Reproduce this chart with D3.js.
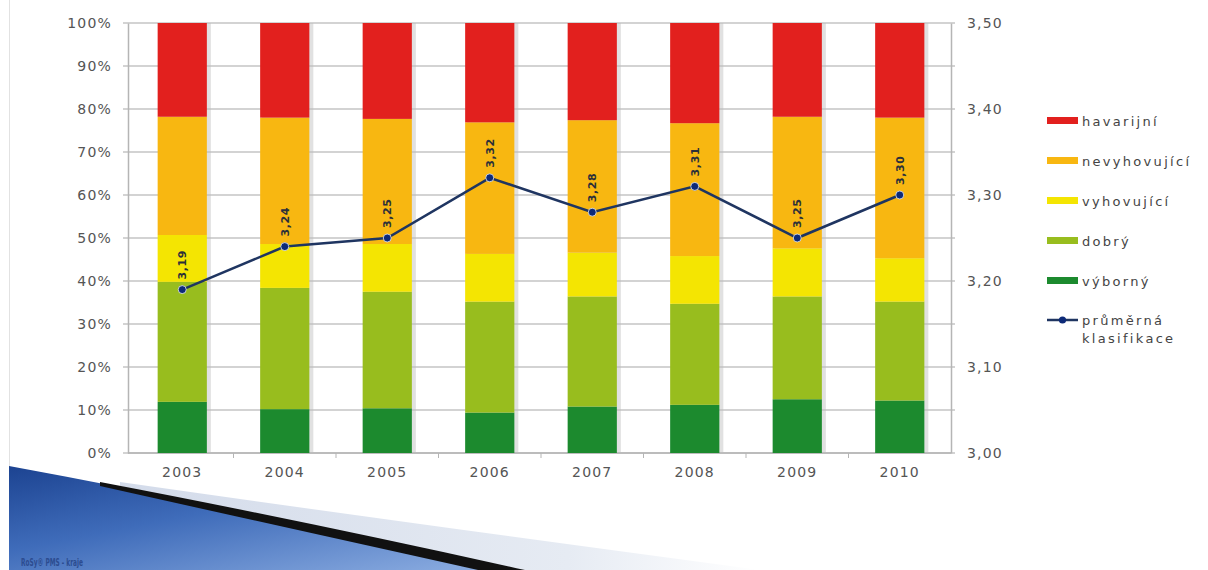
<!DOCTYPE html>
<html>
<head>
<meta charset="utf-8">
<script src="https://cdn.jsdelivr.net/npm/d3@7"></script>
<style>
  body { margin: 0; background: #fff; }
  text { font-family: "DejaVu Sans", Verdana, sans-serif; }
</style>
</head>
<body>
<div id="chart"></div>
<script>
// categories
const years = ["2003", "2004", "2005", "2006", "2007", "2008", "2009", "2010"];

// shares of each class in percent (bottom to top)
const vyborny     = [11.9, 10.2, 10.4,  9.4, 10.8, 11.2, 12.5, 12.2];
const dobry       = [27.9, 28.2, 27.1, 25.8, 25.6, 23.5, 23.9, 23.0];
const vyhovujici  = [10.9, 10.2, 11.1, 11.1, 10.2, 11.1, 11.2, 10.1];
const nevyhovujici= [27.5, 29.4, 29.1, 30.6, 30.8, 30.9, 30.6, 32.7];
const havarijni   = [21.8, 22.0, 22.3, 23.1, 22.6, 23.3, 21.8, 22.0];

// average classification (right axis)
const prumer = [3.19, 3.24, 3.25, 3.32, 3.28, 3.31, 3.25, 3.30];

const leftTicks = [0, 10, 20, 30, 40, 50, 60, 70, 80, 90, 100];
const rightTicks = [3.0, 3.1, 3.2, 3.3, 3.4, 3.5];

const seriesKeys = ["vyborny", "dobry", "vyhovujici", "nevyhovujici", "havarijni"];
const seriesNames = {
    havarijni: "havarijní",
    nevyhovujici: "nevyhovující",
    vyhovujici: "vyhovující",
    dobry: "dobrý",
    vyborny: "výborný"
};
const colors = {
    havarijni: "#e2201e",
    nevyhovujici: "#f8b711",
    vyhovujici: "#f4e502",
    dobry: "#98bd1e",
    vyborny: "#1c8a2e"
};
const lineColor = "#1f3561";

const width = 1208, height = 570;
const plotLeft = 128, plotRight = 951, plotTop = 23, plotBottom = 453;

const svg = d3.select("#chart").append("svg")
    .attr("width", width)
    .attr("height", height);

// slide decoration at the bottom left
const defs = svg.append("defs");
const blueGrad = defs.append("linearGradient").attr("id", "blueGrad")
    .attr("x1", "0").attr("y1", "0").attr("x2", "0.9").attr("y2", "1");
blueGrad.append("stop").attr("offset", "0").attr("stop-color", "#1c4391");
blueGrad.append("stop").attr("offset", "0.45").attr("stop-color", "#3f6cba");
blueGrad.append("stop").attr("offset", "1").attr("stop-color", "#86a8de");
const paleGrad = defs.append("linearGradient").attr("id", "paleGrad")
    .attr("x1", "0").attr("y1", "0").attr("x2", "1").attr("y2", "0");
paleGrad.append("stop").attr("offset", "0").attr("stop-color", "#d3dbea");
paleGrad.append("stop").attr("offset", "0.7").attr("stop-color", "#e6ebf3");
paleGrad.append("stop").attr("offset", "1").attr("stop-color", "#ffffff");

svg.append("line")
    .attr("x1", 9.5).attr("x2", 9.5).attr("y1", 0).attr("y2", 475)
    .attr("stroke", "#e2e2e2");

svg.append("path")
    .attr("d", "M120,482 Q400,522 760,570 L500,570 Q300,528 120,486 Z")
    .attr("fill", "url(#paleGrad)");
svg.append("path")
    .attr("d", "M9,466 Q260,512 490,570 L9,570 Z")
    .attr("fill", "url(#blueGrad)");
svg.append("path")
    .attr("d", "M100,482 Q300,520 525,570 L478,570 Q270,524 100,486 Z")
    .attr("fill", "#111");

svg.append("text")
    .attr("x", 21).attr("y", 566)
    .attr("font-size", 10).attr("font-weight", "bold")
    .attr("textLength", 62).attr("lengthAdjust", "spacingAndGlyphs")
    .attr("fill", "#2c4c90")
    .text("RoSy® PMS - kraje");

// scales
const x = d3.scaleBand().domain(years).range([131, plotRight]).paddingInner(0.52).paddingOuter(0.26);
const y = d3.scaleLinear().domain([0, 100]).range([plotBottom, plotTop]);
const y2 = d3.scaleLinear().domain([3.0, 3.5]).range([plotBottom, plotTop]);

// gridlines
svg.append("g")
    .selectAll("line")
    .data(leftTicks)
    .join("line")
    .attr("x1", plotLeft - 5).attr("x2", plotRight + 4)
    .attr("y1", d => y(d)).attr("y2", d => y(d))
    .attr("stroke", "#c4c4c4")
    .attr("stroke-width", 1.6);

// left axis
const yAxis = svg.append("g")
    .attr("transform", `translate(${plotLeft},0)`)
    .call(d3.axisLeft(y).tickValues(leftTicks).tickSize(0).tickPadding(16).tickFormat(d => d + "%"));
yAxis.select(".domain").attr("stroke", "#b5b5b5").attr("stroke-width", 1.5);
yAxis.selectAll("text").attr("font-size", 14).attr("letter-spacing", 1.2)
    .attr("font-family", "DejaVu Sans").attr("fill", "#555");

// right axis
const yAxis2 = svg.append("g")
    .attr("transform", `translate(${plotRight},0)`)
    .call(d3.axisRight(y2).tickValues(rightTicks).tickSize(0).tickPadding(16)
        .tickFormat(d => d3.format(".2f")(d).replace(".", ",")));
yAxis2.select(".domain").attr("stroke", "#b5b5b5").attr("stroke-width", 1.5);
yAxis2.selectAll("text").attr("font-size", 14).attr("letter-spacing", 1.2)
    .attr("font-family", "DejaVu Sans").attr("fill", "#555");

// bottom axis
const xAxis = svg.append("g")
    .attr("transform", `translate(0,${plotBottom})`)
    .call(d3.axisBottom(x).tickSize(0).tickPadding(14));
xAxis.select(".domain").remove();
xAxis.selectAll("text").attr("font-size", 14).attr("letter-spacing", 1.2)
    .attr("font-family", "DejaVu Sans").attr("fill", "#555");
svg.append("line")
    .attr("x1", plotLeft).attr("x2", plotRight).attr("y1", plotBottom).attr("y2", plotBottom)
    .attr("stroke", "#b5b5b5").attr("stroke-width", 1.5);
svg.append("g")
    .selectAll("line")
    .data(years.slice(1))
    .join("line")
    .attr("x1", d => x(d) - x.step() * x.paddingInner() / 2)
    .attr("x2", d => x(d) - x.step() * x.paddingInner() / 2)
    .attr("y1", plotBottom).attr("y2", plotBottom + 5)
    .attr("stroke", "#b5b5b5");

// stacked bars
const rows = years.map((yr, i) => ({
    year: yr,
    vyborny: vyborny[i],
    dobry: dobry[i],
    vyhovujici: vyhovujici[i],
    nevyhovujici: nevyhovujici[i],
    havarijni: havarijni[i]
}));
const stacked = d3.stack().keys(seriesKeys)(rows);

// soft shadow on the right of each bar
svg.append("g")
    .selectAll("rect")
    .data(rows)
    .join("rect")
    .attr("x", d => x(d.year) + 2)
    .attr("y", y(100))
    .attr("width", x.bandwidth() + 2)
    .attr("height", y(0) - y(100))
    .attr("fill", "#bdbdbd")
    .attr("opacity", 0.45);

svg.append("g")
    .selectAll("g")
    .data(stacked)
    .join("g")
    .attr("fill", d => colors[d.key])
    .selectAll("rect")
    .data(d => d)
    .join("rect")
    .attr("x", d => x(d.data.year))
    .attr("y", d => y(d[1]))
    .attr("width", x.bandwidth())
    .attr("height", d => y(d[0]) - y(d[1]));

// average line
const pts = years.map((yr, i) => ({ year: yr, v: prumer[i] }));
const line = d3.line()
    .x(d => x(d.year) + x.bandwidth() / 2)
    .y(d => y2(d.v));

svg.append("path")
    .datum(pts)
    .attr("d", line)
    .attr("fill", "none")
    .attr("stroke", lineColor)
    .attr("stroke-width", 2.5);

svg.append("g")
    .selectAll("circle")
    .data(pts)
    .join("circle")
    .attr("cx", d => x(d.year) + x.bandwidth() / 2)
    .attr("cy", d => y2(d.v))
    .attr("r", 4)
    .attr("fill", "#0d2a78")
    .attr("stroke", "#e8ecf5")
    .attr("stroke-width", 0.8);

svg.append("g")
    .selectAll("text")
    .data(pts)
    .join("text")
    .attr("transform", d => `translate(${x(d.year) + x.bandwidth() / 2},${y2(d.v) - 10}) rotate(-90)`)
    .attr("dy", "0.35em")
    .attr("font-size", 11)
    .attr("font-family", "Liberation Sans")
    .attr("font-weight", "bold")
    .attr("letter-spacing", 0.6)
    .attr("fill", "#2b2f3a")
    .text(d => d3.format(".2f")(d.v).replace(".", ","));

// legend
const legendKeys = ["havarijni", "nevyhovujici", "vyhovujici", "dobry", "vyborny"];
const legend = svg.append("g").attr("transform", "translate(1047,0)");
legendKeys.forEach((k, i) => {
    const ly = 121 + i * 40;
    legend.append("rect")
        .attr("x", 0).attr("y", ly - 4)
        .attr("width", 31).attr("height", 7)
        .attr("fill", colors[k]);
    legend.append("text")
        .attr("x", 35).attr("y", ly)
        .attr("dy", "0.35em")
        .attr("font-size", 13)
        .attr("letter-spacing", 2.3)
        .attr("fill", "#444")
        .text(seriesNames[k]);
});
const lineY = 121 + 5 * 40 - 1;
legend.append("line")
    .attr("x1", 0).attr("x2", 31).attr("y1", lineY).attr("y2", lineY)
    .attr("stroke", lineColor).attr("stroke-width", 2.5);
legend.append("circle")
    .attr("cx", 15.5).attr("cy", lineY).attr("r", 3.6)
    .attr("fill", "#0d2a78");
legend.append("text")
    .attr("x", 35).attr("y", lineY).attr("dy", "0.35em")
    .attr("font-size", 13).attr("letter-spacing", 2.3).attr("fill", "#444")
    .text("průměrná");
legend.append("text")
    .attr("x", 35).attr("y", lineY + 18).attr("dy", "0.35em")
    .attr("font-size", 13).attr("letter-spacing", 2.3).attr("fill", "#444")
    .text("klasifikace");
</script>
</body>
</html>
